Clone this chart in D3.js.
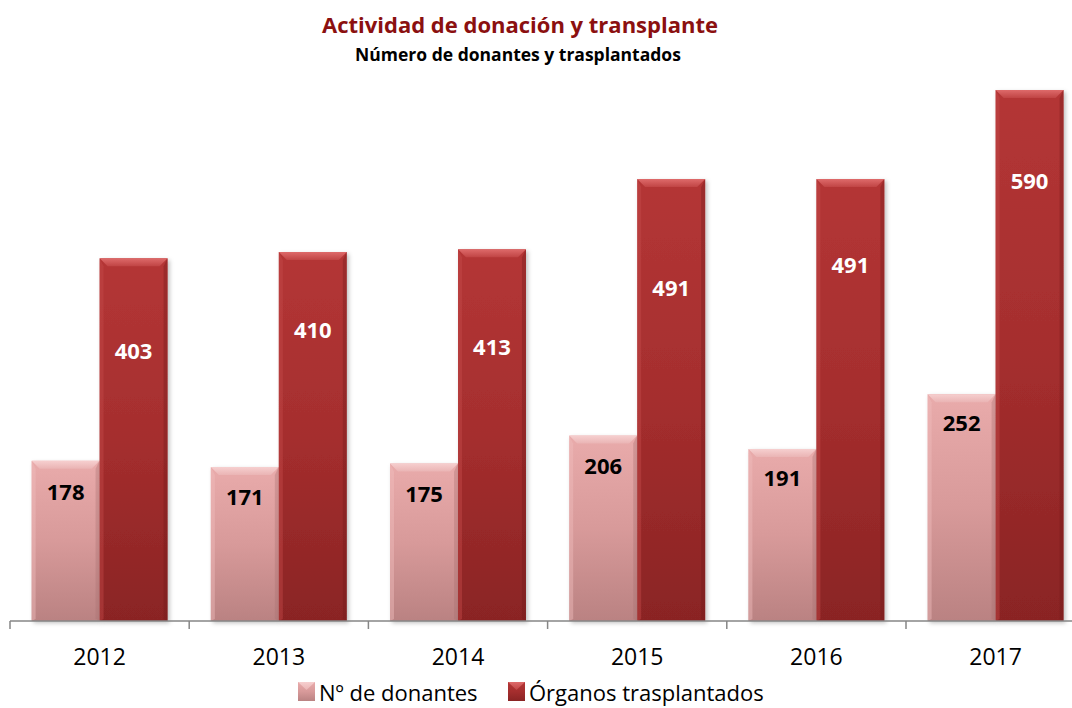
<!DOCTYPE html>
<html>
<head>
<meta charset="utf-8">
<script src="https://cdn.jsdelivr.net/npm/d3@7"></script>
<style>
  body { margin: 0; background: #fff; }
  svg { display: block; }
</style>
</head>
<body>
<script>
// Chart data
const years = ["2012", "2013", "2014", "2015", "2016", "2017"];
const donantes = [178, 171, 175, 206, 191, 252];
const organos = [403, 410, 413, 491, 491, 590];
const seriesNames = ["Nº de donantes", "Órganos trasplantados"];

// label placement below the bar top (px), as in the original
const donLabelDy = [31, 30, 31, 30, 29, 29];
const orgLabelDy = [93, 78, 98, 109, 86, 91];

const W = 1072, H = 708;
const svg = d3.select("body").append("svg")
    .attr("width", W)
    .attr("height", H)
    .attr("viewBox", `0 0 ${W} ${H}`);

const defs = svg.append("defs");

// vertical gradients for the two series
function vGrad(id, stops) {
    const g = defs.append("linearGradient")
        .attr("id", id)
        .attr("x1", 0).attr("y1", 0).attr("x2", 0).attr("y2", 1);
    stops.forEach(s => g.append("stop").attr("offset", s[0]).attr("stop-color", s[1]));
}
vGrad("gDon", [[0, "#e9abab"], [0.5, "#d89a9a"], [1, "#ba8282"]]);
vGrad("gOrg", [[0, "#b43636"], [0.5, "#a52e2e"], [1, "#8a2424"]]);
vGrad("gDonTop", [[0, "#f6cfcf"], [1, "#eab4b4"]]);
vGrad("gOrgTop", [[0, "#de6a6a"], [1, "#c04444"]]);

const shadow = defs.append("filter").attr("id", "shadow")
    .attr("x", "-10%").attr("y", "-10%").attr("width", "130%").attr("height", "130%");
shadow.append("feDropShadow")
    .attr("dx", 2).attr("dy", 2).attr("stdDeviation", 2)
    .attr("flood-color", "#000").attr("flood-opacity", 0.25);

// scales
const axisY = 621;
const x0 = d3.scaleBand().domain(years).range([10, 10 + 6 * 179.2]).padding(0);
const x1 = d3.scaleBand().domain(seriesNames).range([0, x0.bandwidth()])
    .paddingInner(0).paddingOuter(0.318);
const y = d3.scaleLinear().domain([0, 600]).range([axisY, 81]);

const series = [
    { name: seriesNames[0], values: donantes, fill: "url(#gDon)", top: "url(#gDonTop)",
      light: "#f0bcbc", dark: "#a87070", label: "#000", dy: donLabelDy },
    { name: seriesNames[1], values: organos, fill: "url(#gOrg)", top: "url(#gOrgTop)",
      light: "#c44a4a", dark: "#6f1a1a", label: "#fff", dy: orgLabelDy }
];

// bevelled bar
function bevelBar(g, bx, by, bw, bh, s) {
    const b = 8, side = 4;
    g.append("rect")
        .attr("x", bx).attr("y", by).attr("width", bw).attr("height", bh)
        .attr("fill", s.fill)
        .attr("filter", "url(#shadow)");
    // left edge
    g.append("polygon")
        .attr("points", [[bx, by], [bx + side, by + b], [bx + side, by + bh - 2], [bx, by + bh]].join(" "))
        .attr("fill", s.light).attr("opacity", 0.45);
    // right edge
    g.append("polygon")
        .attr("points", [[bx + bw, by], [bx + bw - side, by + b], [bx + bw - side, by + bh - 2], [bx + bw, by + bh]].join(" "))
        .attr("fill", s.dark).attr("opacity", 0.35);
    // top bevel
    g.append("polygon")
        .attr("points", [[bx, by], [bx + bw, by], [bx + bw - b, by + b], [bx + b, by + b]].join(" "))
        .attr("fill", s.top);
}

const plot = svg.append("g");
series.forEach(s => {
    s.values.forEach((v, i) => {
        const bx = x0(years[i]) + x1(s.name);
        const bw = x1.bandwidth();
        const by = y(v);
        bevelBar(plot, bx, by, bw, axisY - by, s);
    });
});

// axis
const axisG = svg.append("g").attr("transform", `translate(0,${axisY})`);
axisG.append("line")
    .attr("x1", 10).attr("x2", W).attr("y1", 0).attr("y2", 0)
    .attr("stroke", "#868686").attr("stroke-width", 1.5);
axisG.selectAll(".tick")
    .data(years)
    .join("line")
    .attr("x1", d => x0(d)).attr("x2", d => x0(d))
    .attr("y1", 0).attr("y2", 8)
    .attr("stroke", "#868686").attr("stroke-width", 1.5);
axisG.selectAll(".yl")
    .data(years)
    .join("text")
    .attr("x", d => x0(d) + x0.bandwidth() / 2)
    .attr("y", 44)
    .attr("text-anchor", "middle")
    .attr("font-family", "Open Sans")
    .attr("font-size", 23)
    .attr("fill", "#000")
    .text(d => d);

// value labels
series.forEach(s => {
    svg.append("g").selectAll("text")
        .data(s.values)
        .join("text")
        .attr("x", (v, i) => x0(years[i]) + x1(s.name) + x1.bandwidth() / 2)
        .attr("y", (v, i) => y(v) + s.dy[i])
        .attr("dy", "0.36em")
        .attr("text-anchor", "middle")
        .attr("font-family", "Open Sans")
        .attr("font-weight", "bold")
        .attr("font-size", 22)
        .attr("fill", s.label)
        .text(v => v);
});

// titles
svg.append("text")
    .attr("x", 520).attr("y", 33)
    .attr("text-anchor", "middle")
    .attr("font-family", "Open Sans")
    .attr("font-weight", "bold")
    .attr("font-size", 22)
    .attr("fill", "#8b1010")
    .text("Actividad de donación y transplante");
svg.append("text")
    .attr("x", 518).attr("y", 61)
    .attr("text-anchor", "middle")
    .attr("font-family", "Open Sans")
    .attr("font-weight", "bold")
    .attr("font-size", 17.5)
    .attr("fill", "#000")
    .text("Número de donantes y trasplantados");

// legend
const legend = svg.append("g");
const legX = [298, 508];
series.forEach((s, i) => {
    const lg = legend.append("g").attr("transform", `translate(${legX[i]},682)`);
    lg.append("rect").attr("width", 17).attr("height", 19).attr("fill", s.fill);
    lg.append("polygon")
        .attr("points", "0,0 17,0 8.5,8")
        .attr("fill", s.top);
    lg.append("text")
        .attr("x", 21).attr("y", 19)
        .attr("font-family", "Open Sans")
        .attr("font-size", 22)
        .attr("fill", "#000")
        .text(s.name);
});
</script>
</body>
</html>
